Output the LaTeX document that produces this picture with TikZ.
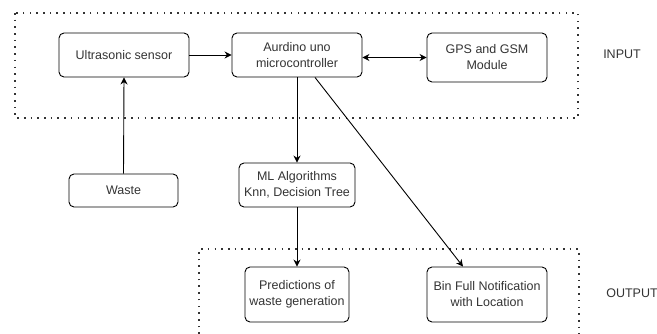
\documentclass[tikz,border=0pt]{standalone}
\usepackage{fontspec}
\setmainfont{Liberation Sans}
\usetikzlibrary{arrows.meta,calc}
\definecolor{txt}{HTML}{333333}
\begin{document}
\begin{tikzpicture}[x=1pt,y=-1pt,
  box/.style={draw=black,line width=0.9pt,rounded corners=5pt,align=center,
    inner sep=0pt,text=txt,font=\fontsize{12.5}{16}\selectfont},
  lbl/.style={text=txt,font=\fontsize{12.5}{16}\selectfont,inner sep=0pt},
  dotbox/.style={line width=1.6pt,dash pattern=on 1.6pt off 5.1pt,color=black!80},
  arr/.style={line width=0.9pt,-{Stealth[length=7pt,width=7pt]}},
  darr/.style={line width=0.9pt,{Stealth[length=7pt,width=7pt]}-{Stealth[length=7pt,width=7pt]}}]
\useasboundingbox (0,0) rectangle (657,334);
% dotted group frames
\draw[dotbox] (15,13) rectangle (578,118);
\draw[dotbox] (199,334) -- (199,249) -- (579,249) -- (579,334);
% nodes
\node[box,minimum width=130pt,minimum height=44pt] (ultra) at (124,55) {Ultrasonic sensor};
\node[box,minimum width=130pt,minimum height=44pt] (aurd) at (297,55) {Aurdino uno\\microcontroller};
\node[box,minimum width=120pt,minimum height=49pt] (gps) at (487,57.5) {GPS and GSM\\Module};
\node[lbl] (inp) at (622,54) {INPUT};
\node[box,minimum width=109pt,minimum height=33pt] (waste) at (123.5,190.5) {Waste};
\node[box,minimum width=116pt,minimum height=44pt] (ml) at (297,185) {ML Algorithms\\Knn, Decision Tree};
\node[box,minimum width=104pt,minimum height=55pt] (pred) at (297,294.5) {Predictions of\\waste generation};
\node[box,minimum width=120pt,minimum height=55pt] (bin) at (487,294.5) {Bin Full Notification\\with Location};
\node[lbl] (outp) at (632,293) {OUTPUT};
% connectors
\draw[arr] (ultra.east) -- (aurd.west);
\draw[darr] (aurd.east |- gps.west) -- (gps.west);
\draw[arr] (waste.north) -- (ultra.south);
\draw[arr] (aurd.south) -- (ml.north);
\draw[arr] (ml.south) -- (pred.north);
\draw[arr] ($(aurd.south)+(18,0)$) -- ($(bin.north)+(-24,0)$);
\end{tikzpicture}
\end{document}
